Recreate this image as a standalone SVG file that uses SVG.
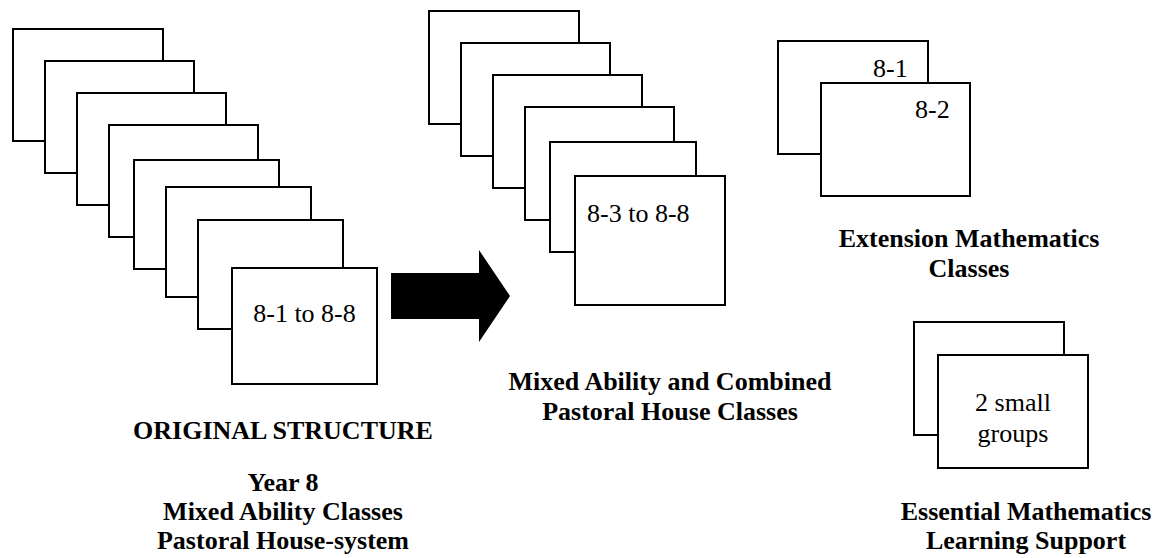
<svg xmlns="http://www.w3.org/2000/svg" width="1164" height="558" viewBox="0 0 1164 558">
<style>
.card{fill:#fff;stroke:#000;stroke-width:2}
.lbl{font-family:'Liberation Serif','Times New Roman',Tinos,'DejaVu Serif',serif;font-size:26px;fill:#000}
.hd{font-family:'Liberation Serif','Times New Roman',Tinos,'DejaVu Serif',serif;font-size:26px;font-weight:bold;fill:#000;text-anchor:middle}
</style>
<rect width="1164" height="558" fill="#fff"/>
<g id="original-stack">
<rect class="card" x="13" y="29" width="150" height="112"/>
<rect class="card" x="45" y="61" width="149" height="112"/>
<rect class="card" x="77" y="93" width="149" height="112"/>
<rect class="card" x="109" y="125" width="149" height="112"/>
<rect class="card" x="134" y="160" width="145" height="109"/>
<rect class="card" x="166" y="187" width="145" height="110"/>
<rect class="card" x="198" y="220" width="145" height="109"/>
<rect class="card" x="232" y="268" width="145" height="116"/>
<text class="lbl" x="304.5" y="322" text-anchor="middle" font-family="Liberation Serif, serif">8-1 to 8-8</text>
</g>
<g id="connectors">
<polygon points="391,273 479,273 479,250 510,296 479,342 479,319 391,319" fill="#000"/>
</g>
<g id="mixed-stack">
<rect class="card" x="429" y="11" width="150" height="113"/>
<rect class="card" x="461" y="43" width="149" height="113"/>
<rect class="card" x="493" y="75" width="149" height="113"/>
<rect class="card" x="525" y="107" width="149" height="113"/>
<rect class="card" x="550" y="142" width="146" height="110"/>
<rect class="card" x="575" y="176" width="150" height="129"/>
<text class="lbl" x="587" y="222">8-3 to 8-8</text>
</g>
<g id="extension-stack">
<rect class="card" x="778" y="41" width="150" height="113"/>
<text class="lbl" x="873" y="77">8-1</text>
<rect class="card" x="821" y="83" width="149" height="113"/>
<text class="lbl" x="915" y="118">8-2</text>
</g>
<g id="essential-stack">
<rect class="card" x="914" y="322" width="150" height="113"/>
<rect class="card" x="938" y="355" width="150" height="113"/>
<text class="lbl" x="1013" y="411" text-anchor="middle">2 small</text>
<text class="lbl" x="1013" y="442" text-anchor="middle">groups</text>
</g>
<g id="labels">
<text class="hd" x="283" y="439">ORIGINAL STRUCTURE</text>
<text class="hd" x="283" y="491">Year 8</text>
<text class="hd" x="283" y="520">Mixed Ability Classes</text>
<text class="hd" x="283" y="549">Pastoral House-system</text>
<text class="hd" x="670" y="390">Mixed Ability and Combined</text>
<text class="hd" x="670" y="420">Pastoral House Classes</text>
<text class="hd" x="969" y="247">Extension Mathematics</text>
<text class="hd" x="969" y="277">Classes</text>
<text class="hd" x="1026" y="520">Essential Mathematics</text>
<text class="hd" x="1026" y="549">Learning Support</text>
</g>
</svg>
